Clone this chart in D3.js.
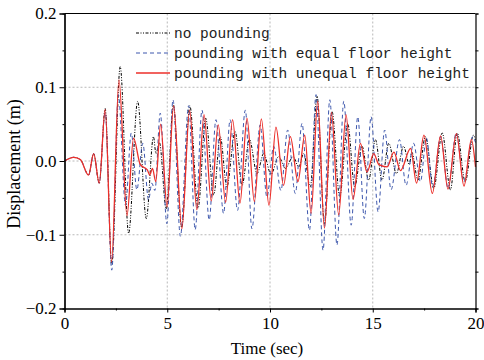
<!DOCTYPE html>
<meta charset="utf-8">
<style>
  body { margin: 0; background: #fff; }
  svg { display: block; }
  .tick text { font-family: "Liberation Serif", "Times New Roman", serif; font-size: 17px; fill: #000; }
  .legend text { font-family: "Liberation Mono", "Courier New", monospace; font-size: 14.5px; fill: #222; }
</style>
<body>
<script src="https://cdn.jsdelivr.net/npm/d3@7"></script>
<script>
// time (sec) / displacement (m), peaks and troughs
var noPoundT = [0,0.44,0.77,1.17,1.42,1.69,1.98,2.30,2.71,3.12,3.56,3.98,4.33,4.45,4.62,4.95,5.30,5.70,6.10,6.50,6.87,7.26,7.58,7.90,8.30,8.64,9.00,9.37,9.69,10.05,10.42,10.75,11.12,11.40,11.64,11.96,12.29,12.65,13.02,13.39,13.78,14.12,14.48,14.80,15.13,15.45,15.78,16.15,16.50,16.78,16.90,17.20,17.56,17.97,18.38,18.78,19.11,19.50,19.90,20];
var noPoundV = [0,0.005,0.002,-0.019,0.010,-0.030,0.071,-0.140,0.128,-0.098,0.081,-0.078,0.033,0.010,0.025,-0.065,0.076,-0.090,0.075,-0.064,0.058,-0.046,0.033,-0.035,0.040,-0.033,0.029,-0.017,0.010,-0.018,0.006,-0.010,0.006,-0.008,0.010,-0.035,0.088,-0.085,0.067,-0.049,0.051,-0.035,0.020,-0.026,0.029,-0.026,0.024,-0.017,0.020,-0.005,0.012,-0.026,0.033,-0.037,0.038,-0.039,0.038,-0.028,0.035,0.029];

var equalT = [0,0.44,0.77,1.17,1.42,1.69,1.98,2.30,2.62,2.97,3.25,3.52,3.81,4.09,4.25,4.40,4.66,4.98,5.28,5.64,6.04,6.36,6.69,7.04,7.37,7.74,8.06,8.42,8.80,9.12,9.52,9.85,10.18,10.53,10.86,11.23,11.56,11.92,12.24,12.58,12.91,13.26,13.59,13.95,14.27,14.59,14.92,15.26,15.58,15.89,16.30,16.62,16.99,17.32,17.61,17.92,18.30,18.67,19.06,19.43,19.87,20];
var equalV = [0,0.005,0.002,-0.019,0.010,-0.030,0.066,-0.148,0.090,-0.060,0.038,-0.039,0.024,-0.053,-0.030,-0.040,0.065,-0.085,0.083,-0.102,0.075,-0.093,0.069,-0.080,0.056,-0.071,0.056,-0.067,0.069,-0.092,0.049,-0.049,0.020,-0.040,0.042,-0.044,0.051,-0.094,0.090,-0.121,0.083,-0.114,0.081,-0.087,0.060,-0.078,0.060,-0.069,0.042,-0.039,0.029,-0.033,0.024,-0.028,0.031,-0.035,0.033,-0.037,0.038,-0.028,0.033,0.025];

var unequalT = [0,0.44,0.77,1.17,1.42,1.69,1.98,2.29,2.65,3.04,3.36,3.69,4.03,4.15,4.28,4.44,4.68,4.99,5.31,5.71,6.09,6.44,6.79,7.14,7.48,7.84,8.18,8.54,8.88,9.24,9.58,9.95,10.29,10.66,10.99,11.36,11.69,12.00,12.32,12.65,12.99,13.34,13.70,14.04,14.40,14.72,15.05,15.30,15.70,16.03,16.35,16.84,17.13,17.49,17.90,18.30,18.66,19.07,19.44,19.80,20];
var unequalV = [0,0.005,0.002,-0.019,0.010,-0.030,0.070,-0.137,0.110,-0.074,0.031,-0.005,-0.012,-0.019,-0.010,-0.028,0.050,-0.062,0.075,-0.092,0.069,-0.066,0.063,-0.054,0.049,-0.056,0.056,-0.057,0.058,-0.055,0.057,-0.060,0.046,-0.033,0.033,-0.028,0.035,-0.071,0.081,-0.091,0.066,-0.073,0.063,-0.052,0.024,-0.015,0.010,-0.005,-0.008,0.012,-0.013,0.017,-0.030,0.035,-0.044,0.034,-0.038,0.037,-0.034,0.029,-0.008];

var xTicks = [0, 5, 10, 15, 20];
var yTicks = [-0.2, -0.1, 0.0, 0.1, 0.2];
var legendNames = ["no pounding", "pounding with equal floor height", "pounding with unequal floor height"];

var margin = {top: 13.5, right: 8.5, bottom: 51.5, left: 64.5},
    width  = 484 - margin.left - margin.right,
    height = 360 - margin.top - margin.bottom;

var svg = d3.select("body").append("svg")
  .attr("width", 484)
  .attr("height", 360);

var chart = svg.append("g")
  .attr("transform", "translate(" + margin.left + "," + margin.top + ")");

var x = d3.scaleLinear().domain([0, 20]).range([0, width]);
var y = d3.scaleLinear().domain([-0.2, 0.2]).range([height, 0]);

// dotted grid at inner major ticks
chart.append("g").selectAll("line")
  .data(xTicks.slice(1, -1))
  .enter().append("line")
  .attr("x1", function(d){ return x(d); })
  .attr("x2", function(d){ return x(d); })
  .attr("y1", 0).attr("y2", height)
  .attr("stroke", "#b8b8b8").attr("stroke-width", 1).attr("stroke-dasharray", "2,2");

chart.append("g").selectAll("line")
  .data(yTicks.slice(1, -1))
  .enter().append("line")
  .attr("y1", function(d){ return y(d); })
  .attr("y2", function(d){ return y(d); })
  .attr("x1", 0).attr("x2", width)
  .attr("stroke", "#b8b8b8").attr("stroke-width", 1).attr("stroke-dasharray", "2,2");

var line = d3.line()
  .x(function(d){ return x(d[0]); })
  .y(function(d){ return y(d[1]); })
  .curve(d3.curveMonotoneX);

function pairs(t, v){ return t.map(function(d, i){ return [d, v[i]]; }); }

var series = [
  {data: pairs(noPoundT, noPoundV),   color: "#000",    width: 1,   dash: "3,1.5,1,1.5,1,1.5"},
  {data: pairs(equalT, equalV),       color: "#3d57ad", width: 1,   dash: "4,3"},
  {data: pairs(unequalT, unequalV),   color: "#ec2f2a", width: 1.3, dash: null}
];

chart.append("g").selectAll("path")
  .data(series)
  .enter().append("path")
  .attr("fill", "none")
  .attr("stroke", function(d){ return d.color; })
  .attr("stroke-width", function(d){ return d.width; })
  .attr("stroke-dasharray", function(d){ return d.dash; })
  .attr("d", function(d){ return line(d.data); });

// axes
var xAxis = chart.append("g")
  .attr("transform", "translate(0," + height + ")")
  .call(d3.axisBottom(x).tickValues(xTicks).tickSize(4).tickPadding(4).tickFormat(d3.format("d")));

chart.append("g")
  .attr("transform", "translate(0," + height + ")")
  .call(d3.axisBottom(x).tickValues([2.5, 7.5, 12.5, 17.5]).tickSize(2).tickFormat(""));

chart.append("g")
  .call(d3.axisLeft(y).tickValues(yTicks).tickSize(5).tickPadding(3).tickFormat(d3.format(".1f")));

chart.append("g")
  .call(d3.axisLeft(y).tickValues([-0.15, -0.05, 0.05, 0.15]).tickSize(2).tickFormat(""));

chart.append("g")
  .attr("transform", "translate(" + width + ",0)")
  .call(d3.axisRight(y).tickValues(yTicks.concat([-0.15, -0.05, 0.05, 0.15])).tickSize(3).tickFormat(""));

chart.append("line")
  .attr("x1", 0).attr("x2", width).attr("y1", 0).attr("y2", 0)
  .attr("stroke", "#000");

chart.selectAll(".domain").attr("stroke", "#000").attr("stroke-width", 1.2);
chart.selectAll(".tick line").attr("stroke", "#000");

// axis titles
svg.append("text")
  .attr("x", 267).attr("y", 354)
  .attr("text-anchor", "middle")
  .style("font-family", "'Liberation Serif', 'Times New Roman', serif")
  .style("font-size", "17px")
  .text("Time (sec)");

svg.append("text")
  .attr("transform", "translate(20," + 164 + ") rotate(-90)")
  .attr("text-anchor", "middle")
  .style("font-family", "'Liberation Serif', 'Times New Roman', serif")
  .style("font-size", "18px")
  .text("Displacement (m)");

// legend
var legend = svg.append("g").attr("class", "legend");
var rows = legend.selectAll("g")
  .data(series)
  .enter().append("g")
  .attr("transform", function(d, i){ return "translate(136," + (33 + i * 20) + ")"; });

rows.append("line")
  .attr("x1", 0).attr("x2", 34)
  .attr("stroke", function(d){ return d.color; })
  .attr("stroke-width", function(d){ return d.width; })
  .attr("stroke-dasharray", function(d){ return d.dash; });

rows.append("text")
  .attr("x", 38).attr("dy", "0.32em")
  .text(function(d, i){ return legendNames[i]; });
</script>
</body>
